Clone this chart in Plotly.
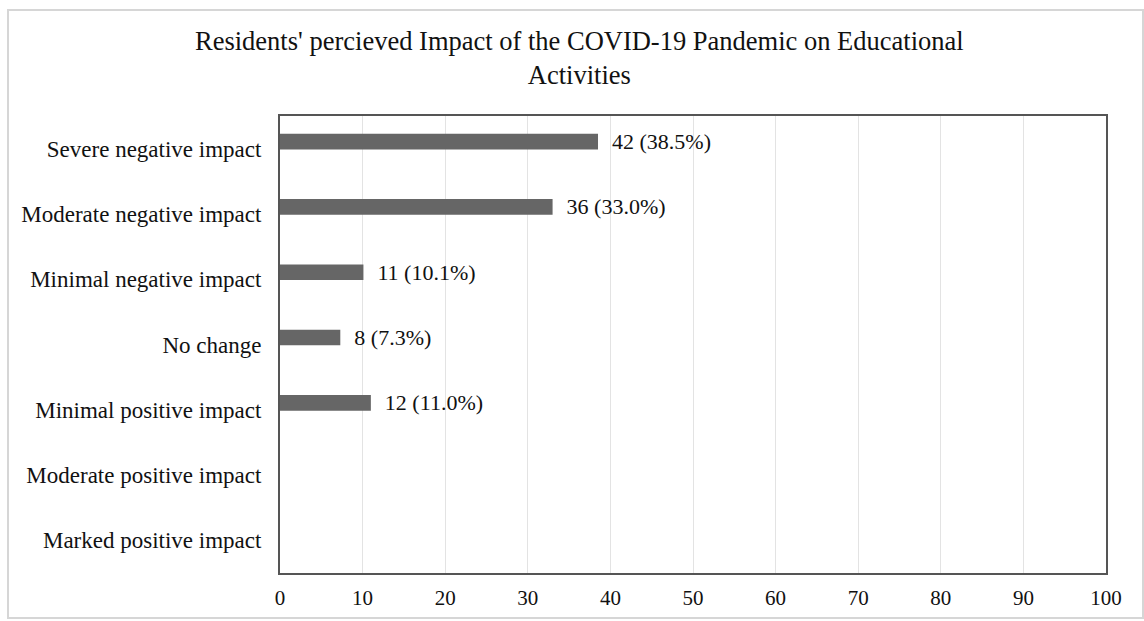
import plotly.graph_objects as go

# Survey responses, top to bottom
categories = [
    "Severe negative impact",
    "Moderate negative impact",
    "Minimal negative impact",
    "No change",
    "Minimal positive impact",
    "Moderate positive impact",
    "Marked positive impact",
]
counts = [42, 36, 11, 8, 12, None, None]
percents = [38.5, 33.0, 10.1, 7.3, 11.0, None, None]
x_ticks = [0, 10, 20, 30, 40, 50, 60, 70, 80, 90, 100]
title_text = (
    "Residents' percieved Impact of the COVID-19 Pandemic on Educational"
    "<br>Activities"
)

labels = [
    f"\u00a0\u00a0{c} ({p:.1f}%)" if c is not None else ""
    for c, p in zip(counts, percents)
]

FONT = "Liberation Serif, Times New Roman, serif"
INK = "#111111"
W, H = 1144, 621
L, R, T, B = 280, 38, 116, 48

fig = go.Figure(
    go.Bar(
        x=percents,
        y=categories,
        orientation="h",
        marker=dict(color="#666666", line=dict(width=0)),
        width=0.24,
        offset=-0.227,
        text=labels,
        textposition="outside",
        constraintext="none",
        textfont=dict(family=FONT, size=22, color=INK),
        cliponaxis=False,
    )
)

pw, ph = W - L - R, H - T - B


def px_x(v):
    return (v - L) / pw


def px_y(v):
    return (H - B - v) / ph


fig.update_layout(
    width=W,
    height=H,
    margin=dict(l=L, r=R, t=T, b=B),
    paper_bgcolor="white",
    plot_bgcolor="white",
    showlegend=False,
    font=dict(family=FONT, size=22, color=INK),
    annotations=[
        dict(
            text=title_text,
            xref="paper",
            yref="paper",
            x=px_x(579),
            y=px_y(58.5),
            xanchor="center",
            yanchor="middle",
            align="center",
            showarrow=False,
            font=dict(family=FONT, size=26.5, color=INK),
        )
    ],
    xaxis=dict(
        range=[0, 100],
        tickvals=x_ticks,
        showgrid=True,
        gridcolor="#e3e3e3",
        gridwidth=1,
        zeroline=False,
        showline=True,
        linecolor="#555555",
        linewidth=2,
        mirror=True,
        ticks="",
        ticklabelstandoff=5,
        tickfont=dict(family=FONT, size=21, color=INK),
    ),
    yaxis=dict(
        categoryorder="array",
        categoryarray=categories,
        autorange=False,
        range=[6.5, -0.5],
        showgrid=False,
        zeroline=False,
        showline=True,
        linecolor="#555555",
        linewidth=2,
        mirror=True,
        ticks="",
        ticklabelstandoff=12,
        tickfont=dict(family=FONT, size=23, color=INK),
    ),
    shapes=[
        dict(
            type="rect",
            xref="paper",
            yref="paper",
            x0=px_x(8),
            x1=px_x(1143),
            y0=px_y(618),
            y1=px_y(10),
            line=dict(color="#d6d6d6", width=2),
            fillcolor="rgba(0,0,0,0)",
            layer="below",
        )
    ],
)

fig.write_html("out.html")
